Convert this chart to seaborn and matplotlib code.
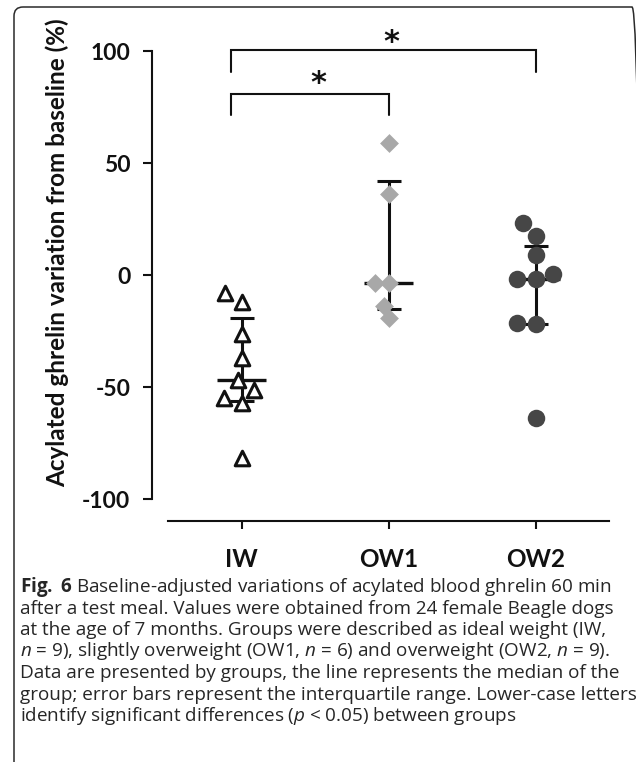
import numpy as np
import pandas as pd
import matplotlib
matplotlib.use("Agg")
import matplotlib.pyplot as plt
import seaborn as sns
from matplotlib.patches import FancyBboxPatch
from matplotlib.transforms import IdentityTransform

# ---------------- data ----------------
groups = ["IW", "OW1", "OW2"]
iw_values = [-8.2, -11.9, -26.3, -37.2, -46.9, -51.3, -55.1, -57.3, -81.8]
ow1_values = [58.8, 36.3, -3.7, -3.7, -13.7, -19.3]
ow2_values = [23.1, 17.4, 8.9, 0.4, -1.9, -1.9, -21.6, -21.9, -63.7]
y_ticks = [-100, -50, 0, 50, 100]
y_label = "Acylated ghrelin variation from baseline (%)"
comparisons = [("IW", "OW1", "*"), ("IW", "OW2", "*")]
caption_lines = [
    r"$\mathbf{Fig.}$ $\mathbf{6}$ Baseline-adjusted variations of acylated blood ghrelin 60 min",
    "after a test meal. Values were obtained from 24 female Beagle dogs",
    "at the age of 7 months. Groups were described as ideal weight (IW,",
    r"$n$ = 9), slightly overweight (OW1, $n$ = 6) and overweight (OW2, $n$ = 9).",
    "Data are presented by groups, the line represents the median of the",
    "group; error bars represent the interquartile range. Lower-case letters",
    r"identify significant differences ($p$ < 0.05) between groups",
]

df = pd.concat([
    pd.DataFrame({"group": g, "value": v})
    for g, v in zip(groups, [iw_values, ow1_values, ow2_values])
], ignore_index=True)

# ---------------- style ----------------
sns.set_style("ticks")
plt.rcParams["font.family"] = ["Lato", "DejaVu Sans"]
plt.rcParams["mathtext.fontset"] = "custom"
plt.rcParams["mathtext.rm"] = "Open Sans"
plt.rcParams["mathtext.it"] = "Open Sans:italic"
plt.rcParams["mathtext.bf"] = "Open Sans:bold"

W, H = 636, 762
fig = plt.figure(figsize=(W / 100, H / 100), dpi=100)
fig.patch.set_facecolor("white")

# axes placed in pixel terms
ax_l, ax_r, ax_top, ax_bot = 152, 612, 20, 499
ax = fig.add_axes([ax_l / W, 1 - ax_bot / H, (ax_r - ax_l) / W, (ax_bot - ax_top) / H])

marker_styles = {
    "IW": dict(marker="^", color="white", edgecolor="#111111", linewidth=2.2, size=10.5),
    "OW1": dict(marker="D", color="#a8a8a8", edgecolor="#a8a8a8", linewidth=0, size=9.6),
    "OW2": dict(marker="o", color="#464646", edgecolor="#464646", linewidth=0, size=12.6),
}

line_color = "#111111"
for i, g in enumerate(groups):
    vals = np.array(df.loc[df.group == g, "value"])
    med = np.median(vals)
    q1, q3 = np.percentile(vals, [25, 75], method="weibull")
    ax.errorbar(i, med, yerr=[[med - q1], [q3 - med]], fmt="none",
                ecolor=line_color, elinewidth=2.2, capsize=8.6, capthick=2.2, zorder=2)
    ax.hlines(med, i - 0.167, i + 0.167, colors=line_color, linewidth=2.4, zorder=2)

for g in groups:
    st = marker_styles[g]
    n_before = len(ax.collections)
    sns.swarmplot(data=df[df.group == g], x="group", y="value", order=groups,
                  marker=st["marker"], color=st["color"], edgecolor=st["edgecolor"],
                  linewidth=st["linewidth"], size=st["size"], ax=ax, warn_thresh=1)
    for c in ax.collections[n_before:]:
        c.set_zorder(3)

# significance brackets
bracket_levels = [(80.8, 71.4, 85.5), (100.4, 90.6, 103.8)]
for (g1, g2, label), (ytop, yleg, ystar) in zip(comparisons, bracket_levels):
    x1 = groups.index(g1) - 0.07
    x2 = groups.index(g2)
    ax.plot([x1, x1, x2, x2], [yleg, ytop, ytop, yleg], color=line_color,
            linewidth=1.5, clip_on=False, zorder=2, solid_joinstyle="miter")
    ax.text((groups.index(g1) + x2) / 2 + 0.02, ystar, label, ha="center", va="center",
            fontsize=22, fontweight="bold", family="DejaVu Sans", color=line_color,
            clip_on=False)

# axes formatting
ax.set_xlim(-0.5 - 16 / 147, 2.52)
ax.set_ylim(-100, (275 - ax_top) / 2.24)
ax.set_yticks(y_ticks)
ax.set_yticklabels([str(t) for t in y_ticks])
ax.set_xticks(range(len(groups)))
ax.set_xticklabels(groups)
ax.set_xlabel("")
ax.set_ylabel(y_label, fontsize=17.5, fontweight="bold", color="#111111")
ax.yaxis.label.set_va("center")
ax.yaxis.set_label_coords((57 - ax_l) / (ax_r - ax_l), (ax_bot - 253) / (ax_bot - ax_top))

for s in ["top", "right"]:
    ax.spines[s].set_visible(False)
ax.spines["left"].set_bounds(-100, 100)
ax.spines["bottom"].set_position(("outward", 16))
ax.spines["bottom"].set_bounds(-0.5, 2.5)
for s in ["left", "bottom"]:
    ax.spines[s].set_linewidth(1.5)
    ax.spines[s].set_color("#111111")

ax.tick_params(axis="y", direction="out", length=6.5, width=1.5, pad=9,
               labelsize=16.5, colors="#111111")
ax.tick_params(axis="x", direction="out", length=6, width=1.5, pad=13,
               labelsize=17.5, colors="#111111")
for lab in ax.get_yticklabels() + ax.get_xticklabels():
    lab.set_fontweight("bold")

# caption: fit font size so the second line spans the reference width (~592 px)
y0 = 592
base_size = 12.0
cap_texts = []
for k, line in enumerate(caption_lines):
    t = fig.text(20 / W, 1 - (y0 + k * 21.5) / H, line, ha="left", va="baseline",
                 fontsize=base_size, family="Open Sans", color="#262626")
    cap_texts.append(t)
fig.canvas.draw()
renderer = fig.canvas.get_renderer()
w_line2 = cap_texts[1].get_window_extent(renderer).width
new_size = base_size * 590 / w_line2
for t in cap_texts:
    t.set_fontsize(new_size)

# frame (right side runs just past the image edge)
frame = FancyBboxPatch((14, -30), 627, H - 7 + 30, boxstyle="round,pad=0,rounding_size=9",
                       transform=IdentityTransform(), facecolor="none",
                       edgecolor="#2a2a2a", linewidth=1.1)
fig.add_artist(frame)

fig.savefig("out.png", dpi=100)
